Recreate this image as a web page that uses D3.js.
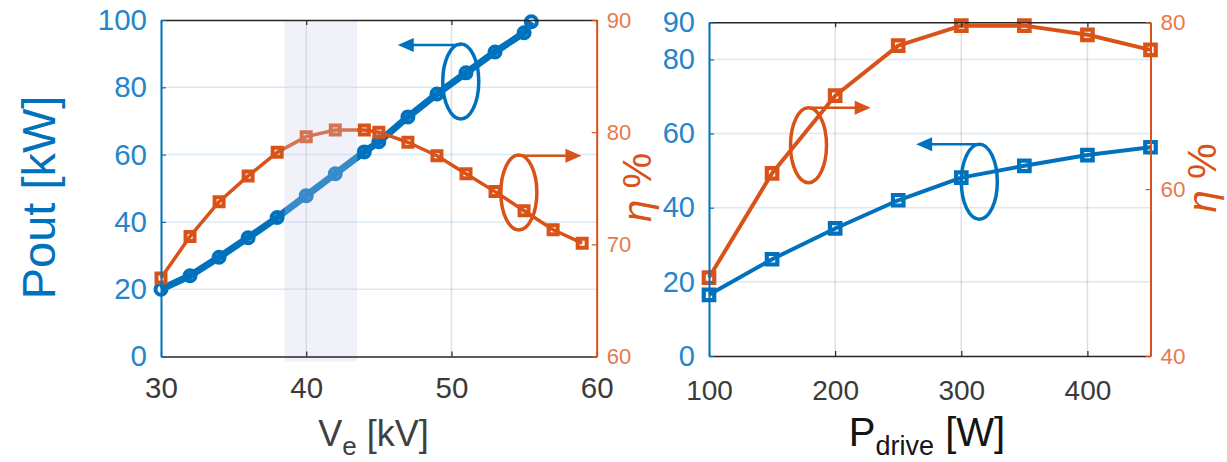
<!DOCTYPE html>
<html><head><meta charset="utf-8">
<script src="https://cdn.jsdelivr.net/npm/d3@7"></script>
<style>
body{margin:0;background:#fff}
svg{display:block}
text{font-family:"Liberation Sans",Arial,Helvetica,sans-serif}
</style>
</head><body>
<svg id="c" width="1227" height="462"></svg>
<script>
// ---- data ----
const veKV      = [30,32,34,36,38,40,42,44,45,47,49,51,53,55,55.5];
const poutVe    = [20,24,29.5,35.3,41.3,47.8,54.3,60.8,63.8,71.2,78,84.3,90.5,96.2,99.5];
const veEtaKV   = [30,32,34,36,38,40,42,44,45,47,49,51,53,55,57,59];
const etaVe     = [67,70.7,73.8,76.1,78.2,79.6,80.2,80.2,80,79.1,77.9,76.3,74.7,73,71.3,70.1];
const pdrive    = [100,150,200,250,300,350,400,450];
const poutPd    = [16.5,26.1,34.4,42,48.1,51.3,54.2,56.3];
const etaPd     = [49.4,61.9,71.2,77.2,79.6,79.6,78.5,76.7];
const leftXTicks   = [30,40,50,60];
const leftYTicks   = [0,20,40,60,80,100];
const leftEtaTicks = [60,70,80,90];
const rightXTicks  = [100,200,300,400];
const rightYTicks  = [0,20,40,60,80,90];
const rightEtaTicks= [40,60,80];
const gridY = [20,40,60,80];
const bandKV = [38.5,43.5];
// annotation anchors in data units: [ellipse x, ellipse y, arrow y, arrow tip x]
const annLeftBlue  = [50.64, 81.7, 92.6, 46.3];
const annLeftOrg   = [54.64, 74.63, 77.9, 58.95];
const annRightOrg  = [178.9, 65.27, 69.76, 228.2];
const annRightBlue = [314.3, 47.0, 57.1, 264.2];

const BLUE = "#0072bd", ORG = "#d95319";
const svg = d3.select("#c");

// ---- scales ----
const xL = d3.scaleLinear([30,60],[161,596.7]);
const yL = d3.scaleLinear([0,100],[356.5,20]);
const eL = d3.scaleLinear([60,90],[356.5,20]);
const xR = d3.scaleLinear([100,450],[709,1150.5]);
const yR = d3.scaleLinear([0,90],[356,22.3]);
const eR = d3.scaleLinear([40,80],[356,22.3]);

function grid(x, y, xt) {
  const g = svg.append("g");
  g.selectAll(".h").data(gridY).join("line")
    .attr("x1", x.range()[0]).attr("x2", x.range()[1])
    .attr("y1", d => y(d)).attr("y2", d => y(d))
    .attr("stroke", "rgba(0,114,189,0.15)").attr("stroke-width", 1.5);
  g.selectAll(".v").data(xt.slice(1)).join("line")
    .attr("x1", d => x(d)).attr("x2", d => x(d))
    .attr("y1", y.range()[0]).attr("y2", y.range()[1])
    .attr("stroke", "rgba(38,38,38,0.15)").attr("stroke-width", 1.5);
}
grid(xL, yL, leftXTicks);
grid(xR, yR, rightXTicks);

function series(xs, ys, x, y, color, lw, marker, msize, mstroke) {
  const idx = d3.range(xs.length);
  svg.append("path").datum(idx)
    .attr("d", d3.line().x(i => x(xs[i])).y(i => y(ys[i])))
    .attr("fill", "none").attr("stroke", color).attr("stroke-width", lw)
    .attr("stroke-linejoin", "round");
  const g = svg.append("g");
  if (marker === "circle") {
    g.selectAll("circle").data(idx).join("circle")
      .attr("cx", i => x(xs[i])).attr("cy", i => y(ys[i])).attr("r", msize)
      .attr("fill", "none").attr("stroke", color).attr("stroke-width", mstroke);
  } else {
    g.selectAll("path").data(idx).join("path")
      .attr("d", d3.symbol(d3.symbolSquare, msize * msize)())
      .attr("transform", i => `translate(${x(xs[i])},${y(ys[i])})`)
      .attr("fill", "none").attr("stroke", color).attr("stroke-width", mstroke);
  }
}
// left panel
series(veKV, poutVe, xL, yL, BLUE, 7, "circle", 5.5, 4);
series(veEtaKV, etaVe, xL, eL, ORG, 3.5, "square", 9, 4);
// shaded band on top
svg.append("rect")
  .attr("x", xL(bandKV[0])).attr("width", xL(bandKV[1]) - xL(bandKV[0]))
  .attr("y", yL(100)).attr("height", yL(0) + 5 - yL(100))
  .attr("fill", "rgb(200,205,235)").attr("opacity", 0.28);
// right panel
series(pdrive, poutPd, xR, yR, BLUE, 4, "square", 10.5, 4.2);
series(pdrive, etaPd, xR, eR, ORG, 4, "square", 10.5, 4.2);

// ---- axes ----
function styleAxis(g, color, width, textColor, fs) {
  g.select(".domain").attr("stroke", color).attr("stroke-width", width);
  g.selectAll(".tick line").attr("stroke", color).attr("stroke-width", 1.2);
  g.selectAll("text").attr("fill", textColor).attr("font-size", fs)
    .attr("font-family", "'Liberation Sans',Arial,Helvetica,sans-serif");
}
function panel(x, y, e, xt, yt, et, xfs, xpad, yfs, efs) {
  const ax = svg.append("g").attr("transform", `translate(0,${y.range()[0]})`)
    .call(d3.axisBottom(x).tickValues(xt).tickSizeInner(-5).tickSizeOuter(0).tickPadding(xpad).tickFormat(d3.format("d")));
  styleAxis(ax, "#262626", 1.5, "#3a3a3a", xfs);
  const at = svg.append("g").attr("transform", `translate(0,${y.range()[1]})`)
    .call(d3.axisTop(x).tickValues(xt).tickSizeInner(-5).tickSizeOuter(0).tickFormat(""));
  styleAxis(at, "#262626", 1.5, "#3a3a3a", xfs);
  const al = svg.append("g").attr("transform", `translate(${x.range()[0]},0)`)
    .call(d3.axisLeft(y).tickValues(yt).tickSizeInner(-5).tickSizeOuter(0).tickPadding(14).tickFormat(d3.format("d")));
  styleAxis(al, BLUE, 2, "#2585cc", yfs);
  const ar = svg.append("g").attr("transform", `translate(${x.range()[1]},0)`)
    .call(d3.axisRight(e).tickValues(et).tickSizeInner(-5).tickSizeOuter(0).tickPadding(10).tickFormat(d3.format("d")));
  styleAxis(ar, ORG, 2, "#e67a4e", efs);
}
panel(xL, yL, eL, leftXTicks, leftYTicks, leftEtaTicks, 29.5, 21, 29.5, 22);
panel(xR, yR, eR, rightXTicks, rightYTicks, rightEtaTicks, 28, 24, 29, 22.5);

// ---- axis titles ----
svg.append("text").attr("transform", "translate(55,197.5) rotate(-90)")
  .attr("text-anchor", "middle").attr("font-size", 47).attr("fill", BLUE).text("Pout [kW]");

function etaLabel(x, y) {
  const t = svg.append("text").attr("transform", `translate(${x},${y}) rotate(-90)`)
    .attr("text-anchor", "middle").attr("font-size", 40).attr("fill", ORG);
  t.append("tspan").attr("font-style", "italic").text("η");
  t.append("tspan").text(" %");
}
etaLabel(650.5, 187.5);
etaLabel(1216, 178);

function xLabel(cx, main, sub, rest, fs, sfs, color) {
  const t = svg.append("text").attr("x", cx).attr("y", 446)
    .attr("text-anchor", "middle").attr("font-size", fs).attr("fill", color);
  t.append("tspan").text(main);
  t.append("tspan").attr("font-size", sfs).attr("dy", 9).text(sub);
  t.append("tspan").attr("dy", -9).text(rest);
}
xLabel(373.5, "V", "e", " [kV]", 36, 26, "#404040");
xLabel(927, "P", "drive", " [W]", 40, 27, "#151515");

// ---- annotations (ellipses with arrows) ----
function annot(a, x, y, color, dir) {
  const [ex, ey, ay, tip] = a;
  svg.append("ellipse").attr("cx", x(ex)).attr("cy", y(ey)).attr("rx", 18).attr("ry", 37.5)
    .attr("fill", "none").attr("stroke", color).attr("stroke-width", 3.5);
  const x0 = x(ex), xt = x(tip), yy = y(ay), s = dir;
  svg.append("line").attr("x1", x0).attr("x2", xt - s * 12).attr("y1", yy).attr("y2", yy)
    .attr("stroke", color).attr("stroke-width", 2.5);
  svg.append("path")
    .attr("d", `M${xt},${yy}L${xt - s * 16},${yy - 7}L${xt - s * 16},${yy + 7}Z`)
    .attr("fill", color);
}
annot(annLeftBlue, xL, yL, BLUE, -1);
annot(annLeftOrg, xL, eL, ORG, 1);
annot(annRightOrg, xR, eR, ORG, 1);
annot(annRightBlue, xR, yR, BLUE, -1);
</script>
</body></html>
